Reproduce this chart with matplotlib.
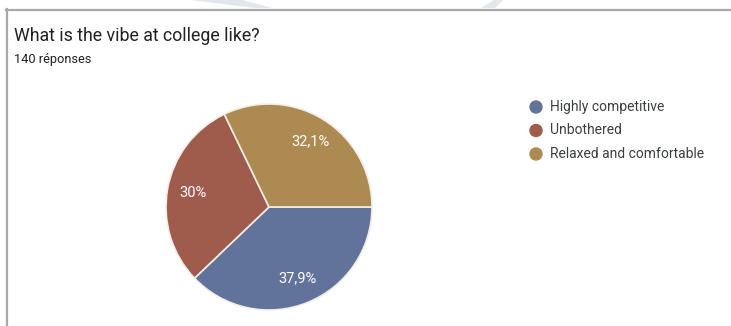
import matplotlib.pyplot as plt
from matplotlib.lines import Line2D
from matplotlib.patches import Polygon, Ellipse

plt.rcParams['font.family'] = ['Roboto', 'DejaVu Sans']

# survey answers (140 responses)
answers = ['Highly competitive', 'Unbothered', 'Relaxed and comfortable']
counts = [53, 42, 45]
colors = ['#62739b', '#9f5b4c', '#ad8a51']
title = 'What is the vibe at college like?'
subtitle = '140 réponses'

W, H = 731, 326
fig = plt.figure(figsize=(W / 100, H / 100), dpi=100)
fig.patch.set_facecolor('white')


def px(x, y):
    # pixel coords (top-left origin) -> figure fraction
    return x / W, 1 - y / H


# faint watermark streaks above the card
for pts in ([(190, 0), (243, 0), (272, 8), (255, 8)],
            [(481, 8), (495, 8), (503, 0), (494, 0)]):
    fig.patches.append(Polygon([px(*p) for p in pts], closed=True,
                               transform=fig.transFigure, color='#e1e7ed', lw=0))

# card border (top and left)
fig.lines.append(Line2D([px(6, 0)[0], 1], [px(0, 9.5)[1]] * 2,
                        transform=fig.transFigure, color='#a9a9a9', lw=1.6))
fig.lines.append(Line2D([px(6.5, 0)[0]] * 2, [px(0, 9)[1], 0],
                        transform=fig.transFigure, color='#a9a9a9', lw=1.6))

fig.text(*px(14, 41), title, fontsize=12.8, color='#202124')
fig.text(*px(14, 63), subtitle, fontsize=9.2, color='#202124')

# pie axes, centred at (269, 207) px with radius ~103 px
cx, cy, r = 269, 207, 103
ax = fig.add_axes([(cx - r) / W, (H - cy - r) / H, 2 * r / W, 2 * r / H])


def fmt(p):
    s = f'{p:.1f}'.rstrip('0').rstrip('.')
    return s.replace('.', ',') + '%'


wedges, _, pct = ax.pie(counts, colors=colors, startangle=0, counterclock=False,
                        autopct=fmt, pctdistance=0.75, radius=1,
                        wedgeprops=dict(edgecolor='#f4eee6', linewidth=1.2),
                        textprops=dict(color='white', fontsize=10.5))
ax.set_xlim(-1, 1)
ax.set_ylim(-1, 1)
ax.set_aspect('equal')
ax.axis('off')

# legend: round markers plus labels
for i, (name, c) in enumerate(zip(answers, colors)):
    y = 107 + i * 23.5
    fig.patches.append(Ellipse(px(536, y), 12 / W, 12 / H,
                               transform=fig.transFigure, color=c))
    fig.text(*px(550, y), name, fontsize=10, color='#3c4043', va='center')

fig.savefig('out.png', dpi=100)
